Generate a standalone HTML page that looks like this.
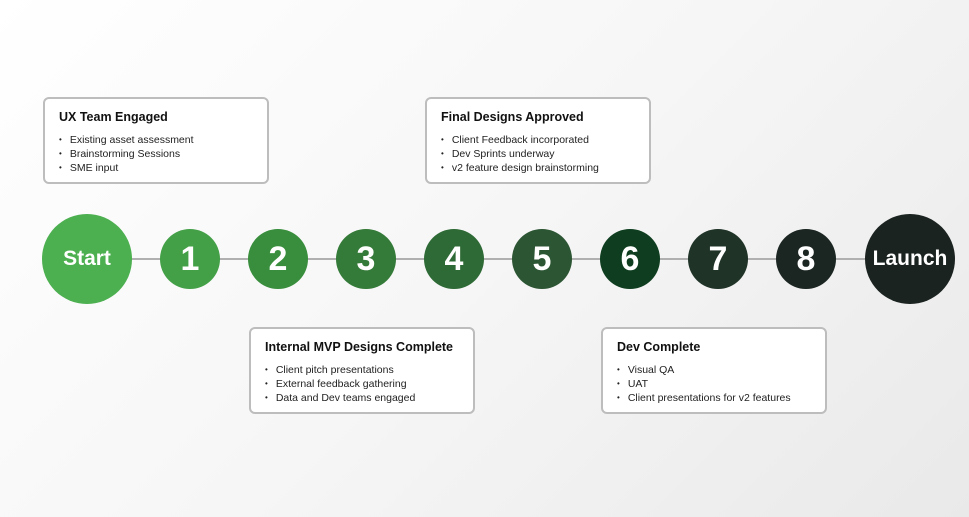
<!DOCTYPE html>
<html><head><style>
body{margin:0;width:969px;height:517px;overflow:hidden;font-family:"Liberation Sans",sans-serif;background:linear-gradient(135deg,#ffffff 0%,#f6f6f6 50%,#e9e9e9 100%);position:relative}
.line{position:absolute;left:87px;width:823px;top:258px;height:2px;background:#b0b0b0}
.c{position:absolute;border-radius:50%;color:#fff;font-weight:bold;display:flex;align-items:center;justify-content:center}
.s{width:60px;height:60px;top:229px;font-size:34px}
.b{width:90px;height:90px;top:214px;font-size:21px}
.box{position:absolute;border:2px solid #bdbdbd;border-radius:6px;background:#fff;box-sizing:border-box;width:226px;height:87px}
.box h{position:absolute;left:14px;top:11px;font-weight:bold;font-size:12.5px;color:#111}
.box ul{position:absolute;left:14px;top:34px;margin:0;padding:0;list-style:none;font-size:10.5px;color:#222}
.box li{line-height:14px;height:14px}
.box li:before{content:"•";font-size:8px;margin-right:8px;position:relative;top:-1px}
</style></head><body>
<div class="line"></div>
<div class="c b" style="left:42px;background:#4caf50">Start</div>
<div class="c s" style="left:160px;background:#43a047">1</div>
<div class="c s" style="left:248px;background:#388e3c">2</div>
<div class="c s" style="left:336px;background:#347a38">3</div>
<div class="c s" style="left:424px;background:#2e6a35">4</div>
<div class="c s" style="left:512px;background:#2c5533">5</div>
<div class="c s" style="left:600px;background:#0e3d1f">6</div>
<div class="c s" style="left:688px;background:#1f3327">7</div>
<div class="c s" style="left:776px;background:#1b2522">8</div>
<div class="c b" style="left:865px;background:#1b2321">Launch</div>
<div class="box" style="left:43px;top:97px"><h>UX Team Engaged</h><ul><li>Existing asset assessment</li><li>Brainstorming Sessions</li><li>SME input</li></ul></div>
<div class="box" style="left:425px;top:97px"><h>Final Designs Approved</h><ul><li>Client Feedback incorporated</li><li>Dev Sprints underway</li><li>v2 feature design brainstorming</li></ul></div>
<div class="box" style="left:249px;top:327px"><h>Internal MVP Designs Complete</h><ul><li>Client pitch presentations</li><li>External feedback gathering</li><li>Data and Dev teams engaged</li></ul></div>
<div class="box" style="left:601px;top:327px"><h>Dev Complete</h><ul><li>Visual QA</li><li>UAT</li><li>Client presentations for v2 features</li></ul></div>
</body></html>
